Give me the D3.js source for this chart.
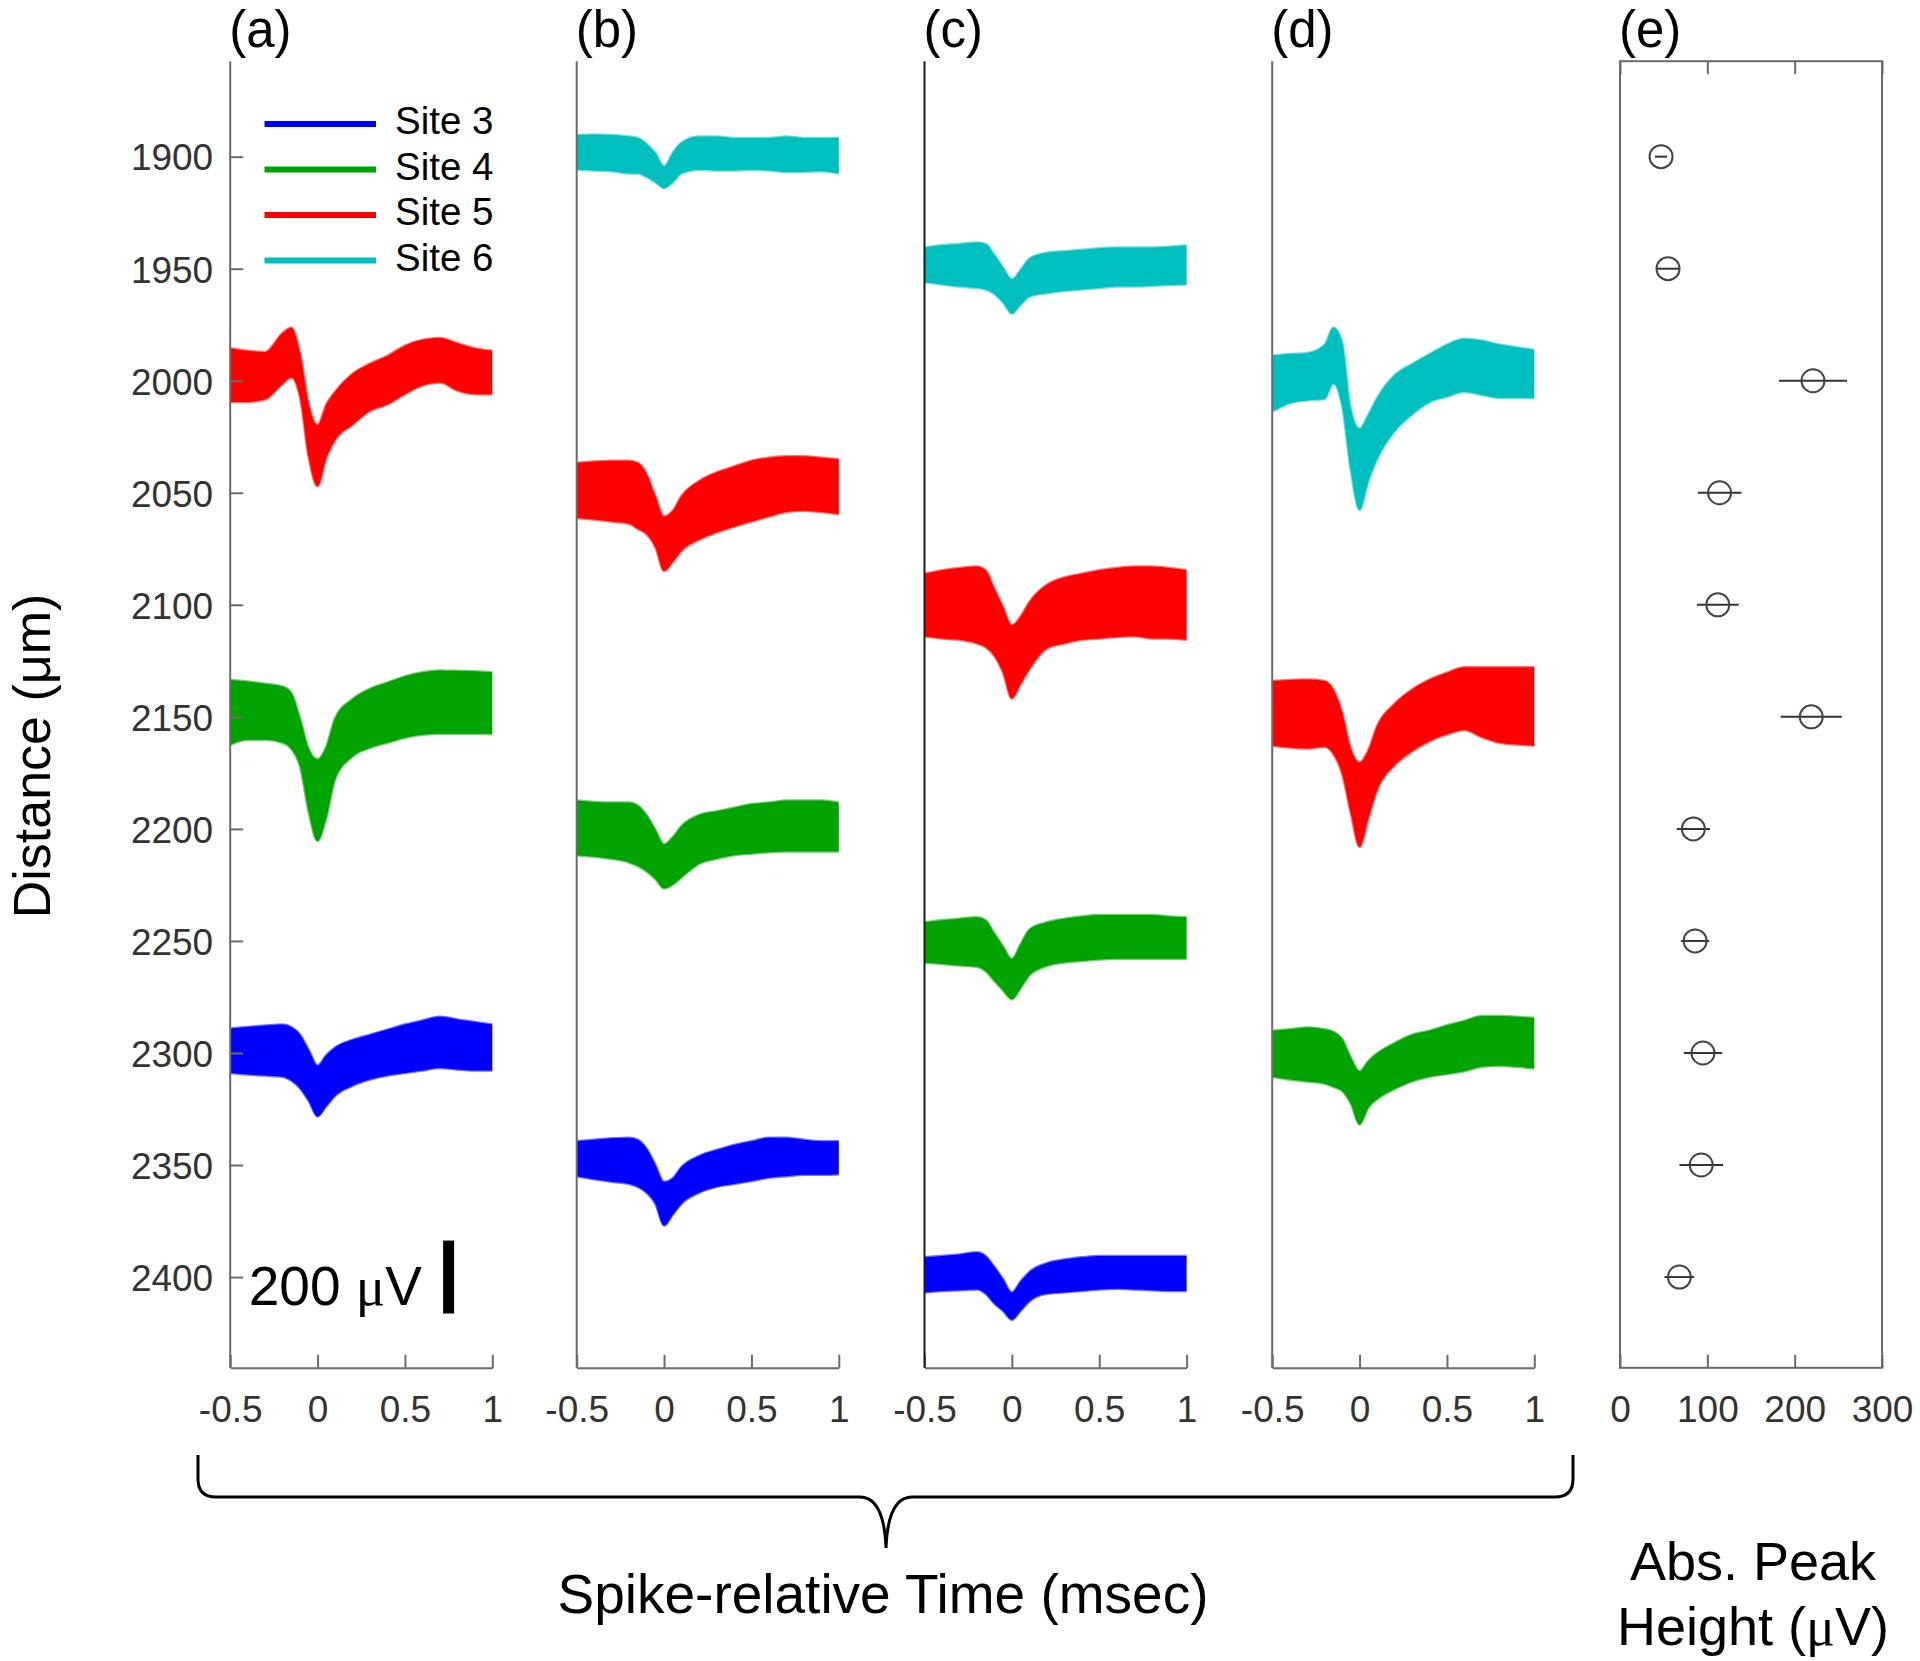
<!DOCTYPE html>
<html><head><meta charset="utf-8">
<script src="https://cdn.jsdelivr.net/npm/d3@7"></script>
<style>
body{margin:0;background:#fff}
svg{display:block}
text{font-family:"Liberation Sans",Arial,Helvetica,sans-serif}
</style>
</head><body>
<svg id="chart" width="1920" height="1661"></svg>
<script>
// ---------------- data ----------------
const panelLabels = ["(a)", "(b)", "(c)", "(d)", "(e)"];
const siteNames = ["Site 3", "Site 4", "Site 5", "Site 6"];
const siteColors = ["#0000ff", "#00a300", "#ff0000", "#00bfbf"];
const depthTicks = [1900, 1950, 2000, 2050, 2100, 2150, 2200, 2250, 2300, 2350, 2400];
const timeTicks = [-0.5, 0, 0.5, 1];
const peakTicks = [0, 100, 200, 300];
// sample times (msec) for waveform envelopes
const times = [-0.5, -0.4, -0.3, -0.2, -0.15, -0.1, -0.05, 0, 0.05, 0.1, 0.2, 0.3, 0.4, 0.5, 0.6, 0.7, 0.8, 0.9, 1.0];

// envelopes of overlaid spike waveforms, in µV relative to the site depth
const aSite5Upper = [89, 82, 79, 131, 145, 75, -65, -121, -65, -30, 19, 47, 68, 96, 112, 117, 103, 89, 82];
const aSite5Lower = [-58, -58, -51, -9, 9, -47, -212, -289, -212, -163, -121, -83, -65, -37, -13, -5, -27, -37, -37];
const aSite4Upper = [101, 97, 91, 83, 66, -4, -88, -116, -81, -4, 49, 77, 94, 111, 122, 127, 126, 125, 122];
const aSite4Lower = [-77, -63, -63, -71, -88, -137, -263, -340, -277, -172, -109, -85, -71, -57, -49, -46, -46, -46, -46];
const aSite3Upper = [67, 71, 75, 78, 71, 50, 8, -34, -6, 15, 36, 50, 64, 78, 89, 99, 92, 85, 78];
const aSite3Lower = [-55, -59, -62, -65, -76, -97, -132, -174, -146, -118, -90, -73, -62, -55, -48, -41, -45, -48, -48];

const bSite6Upper = [59, 61, 59, 55, 51, 35, 11, -26, 11, 39, 55, 55, 51, 51, 51, 55, 51, 51, 51];
const bSite6Lower = [-36, -38, -40, -46, -46, -56, -70, -86, -70, -46, -36, -38, -38, -36, -38, -42, -42, -40, -46];
const bSite5Upper = [82, 86, 88, 88, 82, 52, -9, -65, -49, -9, 32, 56, 72, 88, 96, 100, 100, 96, 92];
const bSite5Lower = [-69, -73, -79, -85, -99, -113, -149, -214, -190, -159, -129, -109, -93, -79, -65, -53, -49, -53, -59];
const bSite4Upper = [78, 74, 72, 72, 64, 38, -2, -42, -22, 8, 38, 48, 58, 68, 72, 78, 78, 78, 72];
const bSite4Lower = [-72, -76, -82, -92, -102, -117, -137, -163, -153, -133, -96, -82, -72, -68, -64, -62, -62, -62, -62];
const bSite3Upper = [65, 69, 73, 75, 69, 45, 1, -46, -36, -5, 25, 41, 55, 65, 75, 75, 69, 65, 65];
const bSite3Lower = [-31, -39, -46, -52, -60, -76, -106, -166, -136, -106, -76, -60, -52, -44, -35, -31, -27, -27, -25];

const cSite6Upper = [58, 64, 68, 72, 68, 38, 3, -29, -3, 28, 44, 48, 52, 56, 58, 58, 58, 60, 64];
const cSite6Lower = [-37, -43, -49, -53, -57, -69, -93, -123, -99, -77, -67, -61, -57, -53, -49, -49, -47, -45, -43];
const cSite5Upper = [85, 95, 101, 105, 95, 45, -6, -56, -32, 8, 55, 75, 85, 95, 101, 105, 105, 101, 95];
const cSite5Lower = [-86, -92, -96, -106, -116, -140, -187, -257, -217, -177, -120, -106, -96, -92, -88, -86, -92, -92, -96];
const cSite4Upper = [51, 57, 61, 65, 57, 21, -15, -49, -9, 31, 51, 61, 67, 71, 71, 71, 71, 67, 65];
const cSite4Lower = [-59, -63, -67, -71, -83, -110, -136, -160, -130, -95, -69, -59, -55, -51, -49, -49, -49, -49, -49];
const cSite3Upper = [54, 58, 62, 68, 58, 28, -6, -42, -12, 14, 38, 48, 54, 58, 58, 58, 58, 58, 58];
const cSite3Lower = [-42, -38, -36, -34, -46, -73, -93, -117, -93, -67, -46, -42, -38, -34, -32, -34, -36, -38, -38];

const dSite6Upper = [69, 73, 76, 99, 146, 107, -77, -131, -93, -47, 15, 46, 73, 99, 115, 110, 99, 92, 84];
const dSite6Lower = [-85, -62, -54, -50, -8, -70, -247, -354, -277, -216, -139, -93, -59, -44, -31, -39, -47, -47, -47];
const dSite5Upper = [98, 101, 102, 98, 75, 13, -87, -125, -91, -25, 36, 75, 102, 121, 136, 136, 136, 136, 136];
const dSite5Lower = [-79, -84, -87, -82, -102, -156, -264, -356, -279, -202, -133, -95, -67, -48, -36, -56, -71, -76, -79];
const dSite4Upper = [61, 65, 70, 65, 58, 39, -12, -50, -22, -1, 27, 50, 61, 76, 88, 101, 101, 99, 96];
const dSite4Lower = [-65, -73, -78, -84, -93, -104, -139, -196, -150, -127, -99, -78, -65, -58, -50, -38, -35, -38, -42];

// which panel / site / depth each band belongs to
const bandPanel = [0, 0, 0, 1, 1, 1, 1, 2, 2, 2, 2, 3, 3, 3];
const bandSite  = [2, 1, 0, 3, 2, 1, 0, 3, 2, 1, 0, 3, 2, 1];
const bandDepth = [2000, 2150, 2300, 1900, 2050, 2200, 2350, 1950, 2100, 2250, 2400, 2000, 2150, 2300];
const bandUpper = [aSite5Upper, aSite4Upper, aSite3Upper, bSite6Upper, bSite5Upper, bSite4Upper, bSite3Upper,
                   cSite6Upper, cSite5Upper, cSite4Upper, cSite3Upper, dSite6Upper, dSite5Upper, dSite4Upper];
const bandLower = [aSite5Lower, aSite4Lower, aSite3Lower, bSite6Lower, bSite5Lower, bSite4Lower, bSite3Lower,
                   cSite6Lower, cSite5Lower, cSite4Lower, cSite3Lower, dSite6Lower, dSite5Lower, dSite4Lower];

// panel (e): absolute peak height per depth
const peakDepths = [1900, 1950, 2000, 2050, 2100, 2150, 2200, 2250, 2300, 2350, 2400];
const peakMeans  = [47, 55, 221, 114, 112, 219, 84, 86, 95, 93, 68];
const peakErrs   = [7, 13, 39, 25, 24, 35, 19, 16, 22, 25, 17];

const scaleBarUV = 200;

// ---------------- layout ----------------
const svg = d3.select("#chart");
const plotTop = 61.2, plotBottom = 1367.8;
const panelLefts = [230.2, 576.7, 924.5, 1272.2];
const panelW = 262.1;
const eLeft = 1620, eRight = 1882;
const axisColor = "#6a6a6a";
const tickFont = 37;

const y = d3.scaleLinear().domain([1857.4, 2440.5]).range([plotTop, plotBottom]);
// vertical voltage scale: 200 µV spans 73 px
const umPerUV = (73 / (y(2000) - y(1999))) / 200;

const xScales = panelLefts.map(l => d3.scaleLinear().domain([-0.5, 1]).range([l, l + panelW]));
const xE = d3.scaleLinear().domain([0, 300]).range([eLeft, eRight]);

// --- waveform bands ---
bandPanel.forEach((p, i) => {
  const xs = xScales[p];
  const depth = bandDepth[i];
  const col = siteColors[bandSite[i]];
  const pts = times.map((t, k) => ({t, hi: bandUpper[i][k], lo: bandLower[i][k]}));
  const area = d3.area()
    .x(d => xs(d.t))
    .y0(d => y(depth - d.lo * umPerUV))
    .y1(d => y(depth - d.hi * umPerUV))
    .curve(d3.curveMonotoneX);
  svg.append("path").datum(pts).attr("d", area).attr("fill", col);
  const lineHi = d3.line().x(d => xs(d.t)).y(d => y(depth - d.hi * umPerUV)).curve(d3.curveMonotoneX);
  const lineLo = d3.line().x(d => xs(d.t)).y(d => y(depth - d.lo * umPerUV)).curve(d3.curveMonotoneX);
  [lineHi, lineLo].forEach(ln => svg.append("path").datum(pts).attr("d", ln)
    .attr("fill", "none").attr("stroke", col).attr("stroke-width", 2.5).attr("stroke-opacity", 0.55));
});

// --- axes for (a)-(d) ---
xScales.forEach((xs, p) => {
  const g = svg.append("g").attr("transform", `translate(0,${plotBottom})`)
    .call(d3.axisBottom(xs).tickValues(timeTicks).tickFormat(d => String(d))
      .tickSizeInner(-13).tickSizeOuter(0).tickPadding(28));
  g.select(".domain").attr("stroke", axisColor).attr("stroke-width", 2);
  g.selectAll(".tick line").attr("stroke", axisColor).attr("stroke-width", 2);
  g.selectAll(".tick text").attr("font-size", tickFont).attr("fill", "#333")
    .attr("font-family", "Liberation Sans, Arial, sans-serif");
  svg.append("line").attr("x1", xs.range()[0]).attr("x2", xs.range()[0])
    .attr("y1", plotTop).attr("y2", plotBottom)
    .attr("stroke", p === 2 ? "#1a1a1a" : axisColor).attr("stroke-width", 2);
});

// y-axis for (a)
{
  const g = svg.append("g").attr("transform", `translate(${panelLefts[0]},0)`)
    .call(d3.axisLeft(y).tickValues(depthTicks).tickFormat(d => String(d))
      .tickSizeInner(-13).tickSizeOuter(0).tickPadding(17));
  g.select(".domain").remove();
  g.selectAll(".tick line").attr("stroke", axisColor).attr("stroke-width", 2);
  g.selectAll(".tick text").attr("font-size", tickFont).attr("fill", "#333").attr("dy", "0.36em")
    .attr("font-family", "Liberation Sans, Arial, sans-serif");
}

// --- panel (e) ---
svg.append("rect").attr("x", eLeft).attr("y", plotTop).attr("width", eRight - eLeft).attr("height", plotBottom - plotTop)
  .attr("fill", "none").attr("stroke", axisColor).attr("stroke-width", 2);
{
  const gb = svg.append("g").attr("transform", `translate(0,${plotBottom})`)
    .call(d3.axisBottom(xE).tickValues(peakTicks).tickFormat(d => String(d))
      .tickSizeInner(-13).tickSizeOuter(0).tickPadding(28));
  gb.select(".domain").remove();
  gb.selectAll(".tick line").attr("stroke", axisColor).attr("stroke-width", 2);
  gb.selectAll(".tick text").attr("font-size", tickFont).attr("fill", "#333")
    .attr("font-family", "Liberation Sans, Arial, sans-serif");
  const gt = svg.append("g").attr("transform", `translate(0,${plotTop})`)
    .call(d3.axisTop(xE).tickValues(peakTicks).tickFormat(() => "").tickSizeInner(-13).tickSizeOuter(0));
  gt.select(".domain").remove();
  gt.selectAll(".tick line").attr("stroke", axisColor).attr("stroke-width", 2);
}
const pk = svg.append("g");
peakDepths.forEach((dpt, i) => {
  pk.append("line").attr("x1", xE(peakMeans[i] - peakErrs[i])).attr("x2", xE(peakMeans[i] + peakErrs[i]))
    .attr("y1", y(dpt)).attr("y2", y(dpt)).attr("stroke", "#333").attr("stroke-width", 2);
  pk.append("circle").attr("cx", xE(peakMeans[i])).attr("cy", y(dpt)).attr("r", 11.5)
    .attr("fill", "none").attr("stroke", "#444").attr("stroke-width", 2);
});

// --- panel labels ---
const labelX = [...panelLefts, eLeft];
panelLabels.forEach((l, i) => {
  svg.append("text").attr("x", labelX[i] - 1).attr("y", 47).attr("font-size", 51).attr("fill", "#000").text(l);
});

// --- legend ---
siteNames.forEach((s, i) => {
  const ly = 124 + i * 45.5;
  svg.append("line").attr("x1", 264.5).attr("x2", 376).attr("y1", ly).attr("y2", ly)
    .attr("stroke", siteColors[i]).attr("stroke-width", 6);
  svg.append("text").attr("x", 395).attr("y", ly + 10).attr("font-size", 38.5).attr("fill", "#000").text(s);
});

// --- scale bar ---
{
  const xs = xScales[0];
  const bx = xs(0.75);
  const half = scaleBarUV / 2 * umPerUV;
  svg.append("line").attr("x1", bx).attr("x2", bx).attr("y1", y(2400 - half)).attr("y2", y(2400 + half))
    .attr("stroke", "#000").attr("stroke-width", 11);
  const t = svg.append("text").attr("x", 422).attr("y", 1305).attr("font-size", 55).attr("text-anchor", "end").attr("fill", "#000");
  t.append("tspan").text(scaleBarUV + " ");
  t.append("tspan").attr("font-family", "Liberation Serif, Times New Roman, serif").text("\u03bc");
  t.append("tspan").text("V");
}

// --- axis titles ---
svg.append("text").attr("transform", "translate(50,756) rotate(-90)").attr("text-anchor", "middle")
  .attr("font-size", 52).attr("fill", "#000").text("Distance (\u03bcm)");
svg.append("text").attr("x", 883).attr("y", 1613).attr("text-anchor", "middle")
  .attr("font-size", 55).attr("fill", "#000").text("Spike-relative Time (msec)");
svg.append("text").attr("x", 1753).attr("y", 1580).attr("text-anchor", "middle")
  .attr("font-size", 54).attr("fill", "#000").text("Abs. Peak");
{
  const t = svg.append("text").attr("x", 1753).attr("y", 1645).attr("text-anchor", "middle")
    .attr("font-size", 54).attr("fill", "#000");
  t.append("tspan").text("Height (");
  t.append("tspan").attr("font-family", "Liberation Serif, Times New Roman, serif").text("\u03bc");
  t.append("tspan").text("V)");
}

// --- curly brace under panels (a)-(d) ---
{
  const x0 = 198, x1 = 1573, xm = 886, yl = 1497, yTip = 1455, yDown = 1548;
  const p = d3.path();
  p.moveTo(x0, yTip);
  p.lineTo(x0, yl - 18);
  p.quadraticCurveTo(x0, yl, x0 + 18, yl);
  p.lineTo(xm - 26, yl);
  p.quadraticCurveTo(xm - 2, yl, xm, yDown);
  p.quadraticCurveTo(xm + 2, yl, xm + 26, yl);
  p.lineTo(x1 - 18, yl);
  p.quadraticCurveTo(x1, yl, x1, yl - 18);
  p.lineTo(x1, yTip);
  svg.append("path").attr("d", p.toString()).attr("fill", "none").attr("stroke", "#000").attr("stroke-width", 3);
}
</script>
</body></html>
